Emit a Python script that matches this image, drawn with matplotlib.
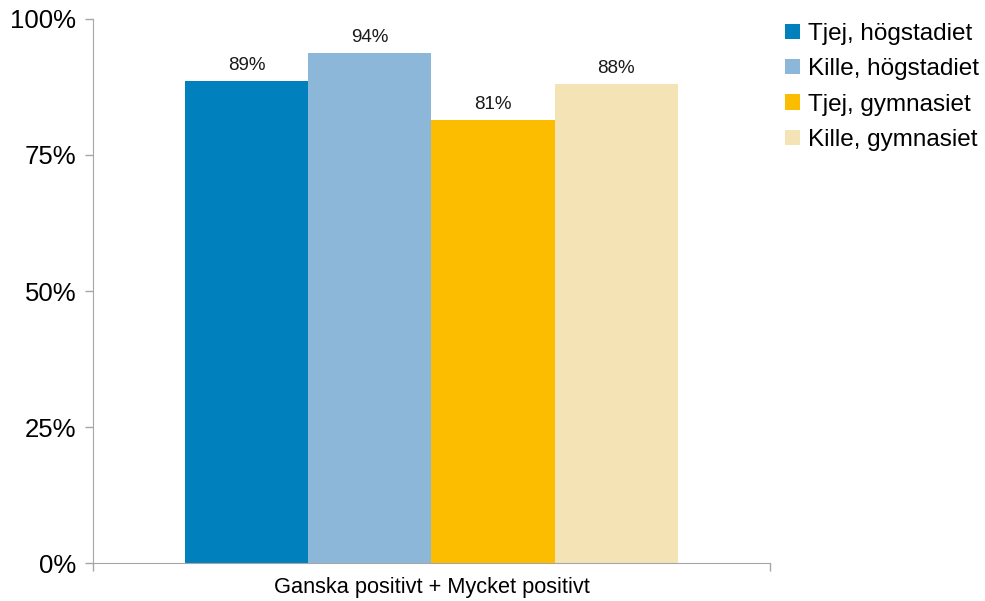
import numpy as np
import matplotlib.pyplot as plt

plt.rcParams['font.family'] = ['Liberation Sans', 'DejaVu Sans']

category = 'Ganska positivt + Mycket positivt'
groups = ['Tjej, högstadiet', 'Kille, högstadiet', 'Tjej, gymnasiet', 'Kille, gymnasiet']
values = [88.6, 93.8, 81.4, 88.1]
labels = ['89%', '94%', '81%', '88%']
colors = ['#0080BD', '#8DB7D9', '#FCBC00', '#F4E4B5']

fig = plt.figure(figsize=(9.85, 6.01), dpi=100)
ax = fig.add_axes([0.0944, 0.0632, 0.6873, 0.9052])

width = 0.182
offsets = (np.arange(len(groups)) - 1.5) * width
for off, v, lab, c, g in zip(offsets, values, labels, colors, groups):
    ax.bar(off, v, width=width, color=c, label=g)
    ax.text(off, v + 1.3, lab, ha='center', va='bottom', fontsize=13.5, color='#1a1a1a')

ax.set_xlim(-0.5, 0.5)
ax.set_ylim(0, 100)
ax.set_yticks([0, 25, 50, 75, 100])
ax.set_yticklabels(['0%', '25%', '50%', '75%', '100%'], fontsize=18.5)
ax.set_xticks([-0.5, 0.5])
ax.set_xticklabels(['', ''])
ax.text(0, -2.6, category, ha='center', va='top', fontsize=15.7, transform=ax.transData)

for s in ['top', 'right']:
    ax.spines[s].set_visible(False)
for s in ['left', 'bottom']:
    ax.spines[s].set_color('#A6A6A6')
ax.tick_params(axis='both', color='#A6A6A6', length=6, width=1)
ax.tick_params(axis='y', pad=6)

fig.legend(loc='upper left', bbox_to_anchor=(0.787, 0.978), frameon=False,
           fontsize=17.5, handlelength=0.6, handleheight=0.6, handletextpad=0.35,
           labelspacing=0.55, borderaxespad=0)

fig.savefig('out.png', dpi=100)
